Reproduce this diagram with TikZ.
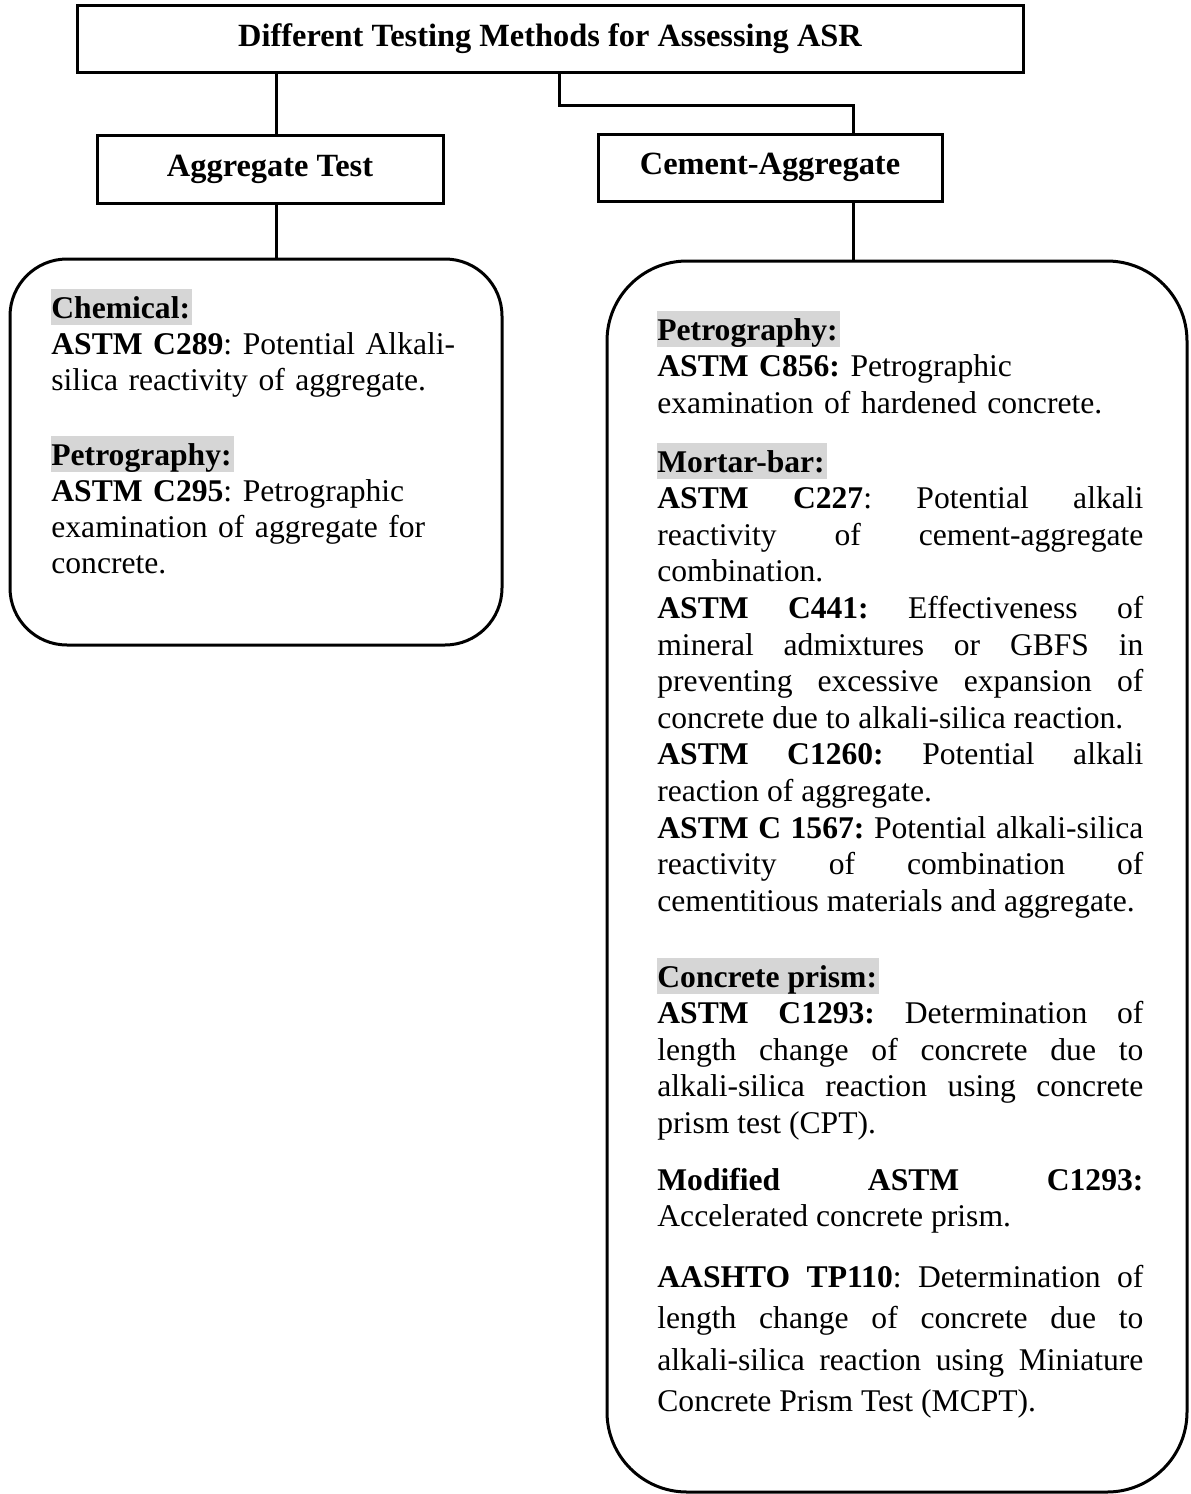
\documentclass[tikz,border=0pt]{standalone}
\usepackage{fontspec}
\setmainfont{Liberation Serif}
\definecolor{hlgray}{RGB}{214,214,214}
\newcommand{\bodysize}{\fontsize{15.8pt}{18.3pt}\selectfont}
\newcommand{\hl}[1]{{\setlength{\fboxsep}{0pt}\colorbox{hlgray}{\rule[-0.23em]{0pt}{1.15em}#1\kern1pt}}}
\frenchspacing
\tolerance=10000
\hyphenpenalty=10000
\exhyphenpenalty=10000
\begin{document}
\begin{tikzpicture}[x=0.5pt,y=-0.5pt,font=\bodysize,
  box/.style={draw,line width=1.5pt,inner sep=0pt,font=\fontsize{16.2pt}{18.3pt}\selectfont\bfseries},
  panel/.style={draw,line width=1.5pt,rounded corners=#1},
  link/.style={line width=1.5pt},
  txt/.style={anchor=base west,inner sep=0pt,text width=243pt,align=justify}]
  \useasboundingbox (0,0) rectangle (1190,1494);
  % Boxes
  \node[box,minimum width=473pt,minimum height=33.5pt] (title) at (550,38.5) {Different Testing Methods for Assessing ASR};
  \node[box,minimum width=173pt,minimum height=34pt] (agg) at (270,169) {Aggregate Test};
  \node[box,minimum width=172pt,minimum height=33.5pt] (cement) at (770,167.5) {Cement-Aggregate};
  \node[panel=28.5pt,minimum width=246pt,minimum height=193pt] (lpanel) at (256,452) {};
  \node[panel=40pt,minimum width=290pt,minimum height=615.5pt] (rpanel) at (897,876.5) {};
  % Connectors
  \coordinate (aggjoin) at ([xshift=3pt]agg.north);
  \coordinate (cemjoin) at ([xshift=41.5pt]cement.north);
  \draw[link] (aggjoin |- title.south) -- (aggjoin);
  \draw[link] (aggjoin |- agg.south) -- (aggjoin |- lpanel.north);
  \draw[link] ([xshift=4.5pt]title.south) -- ++(0,32) -| (cemjoin);
  \draw[link] (cemjoin |- cement.south) -- (cemjoin |- rpanel.north);
  % Aggregate tests
  \node[txt,text width=220pt,align=left,font=\fontsize{15.8pt}{18pt}\selectfont] (chem) at (51,318)
    {\hl{\textbf{Chemical:}}\\\textbf{ASTM C289}: Potential Alkali-\\silica reactivity of aggregate.};
  \node[txt,text width=220pt,align=left,font=\fontsize{15.8pt}{18pt}\selectfont] (lpetro) at (51,465)
    {\hl{\textbf{Petrography:}}\\\textbf{ASTM C295}: Petrographic\\examination of aggregate for\\concrete.};
  % Cement-aggregate tests
  \node[txt,align=left] (rpetro) at (657,340)
    {\hl{\textbf{Petrography:}}\\\textbf{ASTM C856:} Petrographic\\examination of hardened concrete.};
  \node[txt] (mortar) at (657,472)
    {\hl{\textbf{Mortar-bar:}}\par
     \textbf{ASTM C227}: Potential alkali \linebreak reactivity of cement-aggregate \linebreak combination.\par
     \textbf{ASTM C441:} Effectiveness of \linebreak mineral admixtures or GBFS in \linebreak preventing excessive expansion of \linebreak concrete due to alkali-silica reaction.\par
     \textbf{ASTM C1260:} Potential alkali \linebreak reaction of aggregate.\par
     \textbf{ASTM C 1567:} Potential alkali-silica \linebreak reactivity of combination of \linebreak cementitious materials and aggregate.};
  \node[txt] (prism) at (657,987)
    {\hl{\textbf{Concrete prism:}}\par
     \textbf{ASTM C1293:} Determination of \linebreak length change of concrete due to \linebreak alkali-silica reaction using concrete \linebreak prism test (CPT).};
  \node[txt] (modified) at (657,1190)
    {\textbf{Modified ASTM C1293:} \linebreak Accelerated concrete prism.};
  \node[txt,font=\fontsize{15.8pt}{20.8pt}\selectfont] (aashto) at (657,1287)
    {\textbf{AASHTO TP110}: Determination of \linebreak length change of concrete due to \linebreak alkali-silica reaction using Miniature \linebreak Concrete Prism Test (MCPT).};
\end{tikzpicture}
\end{document}
